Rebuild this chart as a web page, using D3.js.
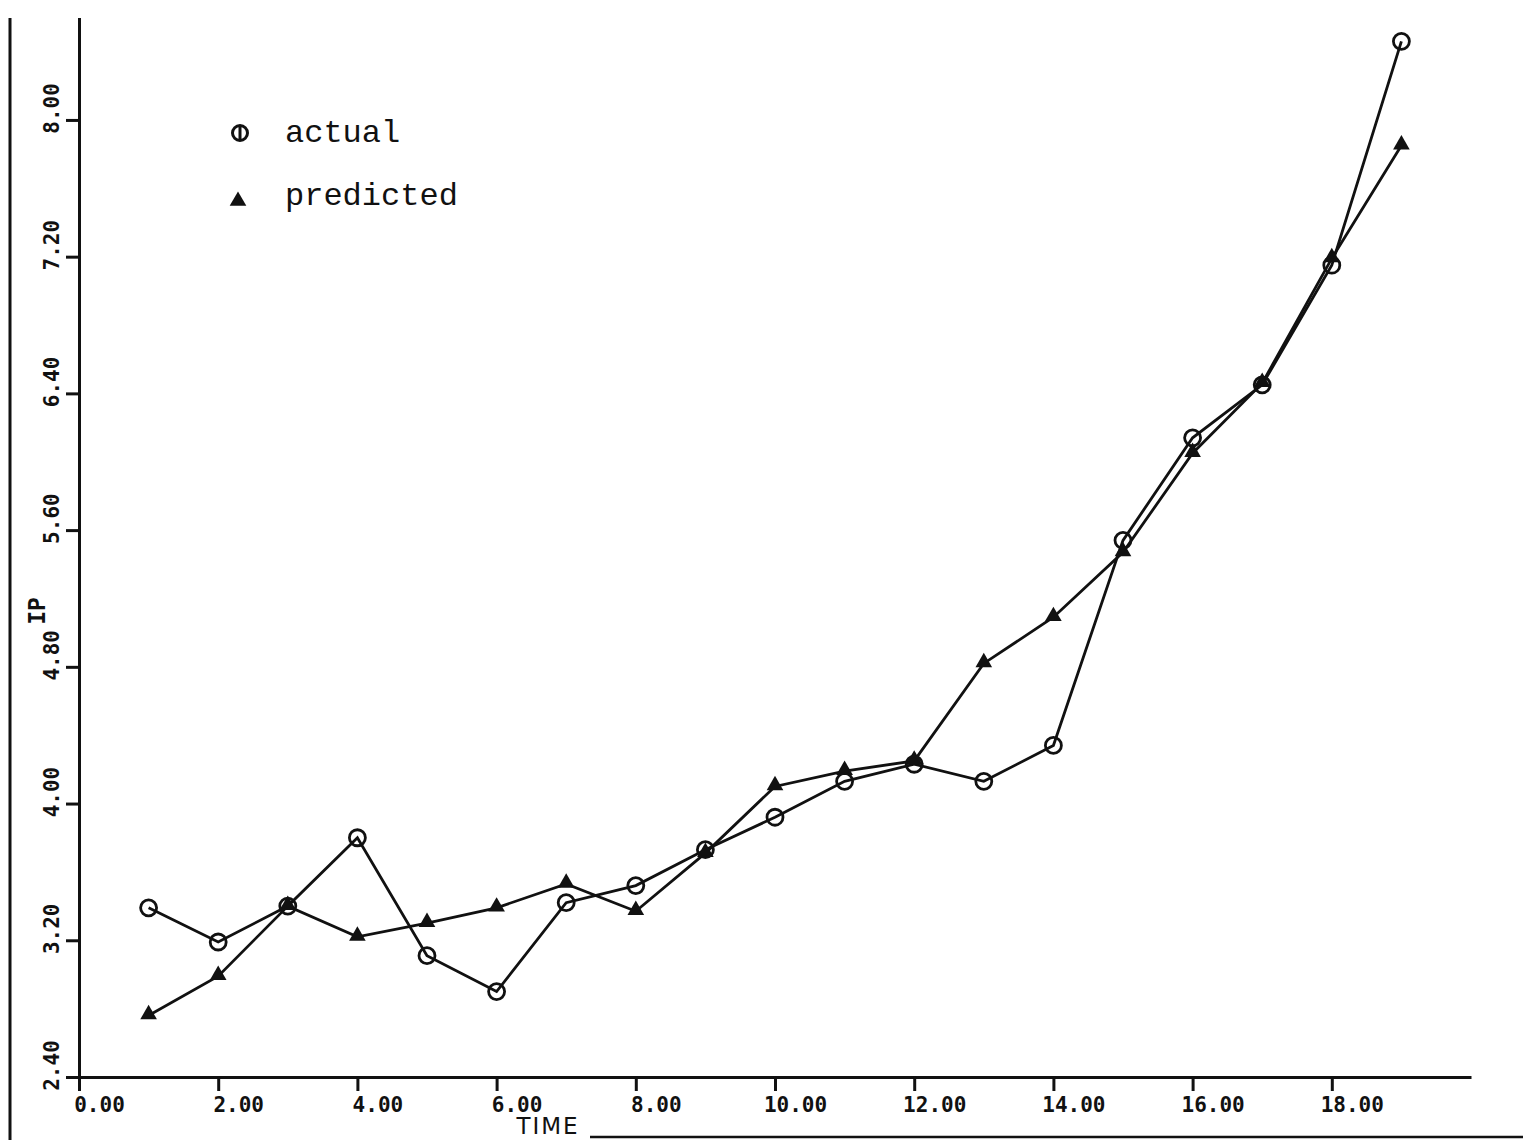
<!DOCTYPE html>
<html>
<head>
<meta charset="utf-8">
<script src="https://cdn.jsdelivr.net/npm/d3@7"></script>
<style>
  html, body { margin: 0; padding: 0; background: #fff; }
  svg { display: block; }
</style>
</head>
<body>
<svg id="chart" width="1523" height="1140"></svg>
<script>
// Time index and the two IP series
const time = [1, 2, 3, 4, 5, 6, 7, 8, 9, 10, 11, 12, 13, 14, 15, 16, 17, 18, 19];
const actual = [3.39, 3.19, 3.40, 3.80, 3.11, 2.90, 3.42, 3.52, 3.73, 3.92, 4.13, 4.23, 4.13, 4.34, 5.54, 6.14, 6.45, 7.15, 8.46];
const predicted = [2.76, 2.99, 3.40, 3.22, 3.30, 3.39, 3.53, 3.37, 3.71, 4.10, 4.19, 4.25, 4.82, 5.09, 5.47, 6.05, 6.46, 7.19, 7.85];

const xTicks = [0, 2, 4, 6, 8, 10, 12, 14, 16, 18];
const yTicks = [2.4, 3.2, 4.0, 4.8, 5.6, 6.4, 7.2, 8.0];
const seriesNames = ["actual", "predicted"];

const svg = d3.select("#chart");
const ink = "#111";

const x = d3.scaleLinear().domain([0, 20]).range([79, 1471]);
const y = d3.scaleLinear().domain([2.4, 8.6]).range([1077, 17.4]);

const tickFont = "'DejaVu Sans Mono', monospace";

// page edge lines
svg.append("line").attr("x1", 10).attr("x2", 10).attr("y1", 18).attr("y2", 1140)
  .attr("stroke", ink).attr("stroke-width", 3);
svg.append("line").attr("x1", 590).attr("x2", 1523).attr("y1", 1137).attr("y2", 1137)
  .attr("stroke", ink).attr("stroke-width", 2.5);

// x axis
const gx = svg.append("g").attr("transform", `translate(0,${y(2.4)})`)
  .call(d3.axisBottom(x).tickValues(xTicks).tickSize(14).tickSizeOuter(0).tickFormat(d3.format(".2f")));
gx.select(".domain").attr("stroke", ink).attr("stroke-width", 3);
gx.selectAll(".tick line").attr("stroke", ink).attr("stroke-width", 3);
gx.selectAll(".tick text")
  .attr("x", 0).attr("y", 0).attr("dy", null)
  .attr("transform", "translate(20,28)")
  .attr("text-anchor", "middle")
  .attr("dominant-baseline", "central")
  .attr("fill", ink)
  .style("font-family", tickFont).style("font-size", "21px").style("font-weight", "bold");

// y axis
const gy = svg.append("g").attr("transform", `translate(${x(0)},0)`)
  .call(d3.axisLeft(y).tickValues(yTicks).tickSize(13).tickSizeOuter(0).tickFormat(d3.format(".2f")));
gy.select(".domain").attr("stroke", ink).attr("stroke-width", 3);
gy.selectAll(".tick line").attr("stroke", ink).attr("stroke-width", 3);
gy.selectAll(".tick text")
  .attr("x", 0).attr("y", 0).attr("dy", null)
  .attr("transform", "translate(-27,-12) rotate(-90)")
  .attr("text-anchor", "middle")
  .attr("dominant-baseline", "central")
  .attr("fill", ink)
  .style("font-family", tickFont).style("font-size", "21px").style("font-weight", "bold");

// axis titles
svg.append("text")
  .attr("transform", "translate(37,611) rotate(-90)")
  .attr("text-anchor", "middle").attr("dominant-baseline", "central")
  .attr("fill", ink)
  .style("font-family", tickFont).style("font-size", "23px").style("font-weight", "bold")
  .text("IP");
svg.append("text")
  .attr("x", 548).attr("y", 1134)
  .attr("text-anchor", "middle")
  .attr("fill", ink)
  .style("font-family", "'DejaVu Sans', sans-serif").style("font-size", "23px")
  .style("letter-spacing", "2px")
  .text("TIME");

// series lines
const line = d3.line().x((d, i) => x(time[i])).y(d => y(d));
svg.append("path").datum(actual).attr("d", line)
  .attr("fill", "none").attr("stroke", ink).attr("stroke-width", 2.8);
svg.append("path").datum(predicted).attr("d", line)
  .attr("fill", "none").attr("stroke", ink).attr("stroke-width", 2.8);

// markers
const tri = d3.symbol().type(d3.symbolTriangle).size(120);
svg.append("g").selectAll("path").data(predicted).join("path")
  .attr("d", tri)
  .attr("transform", (d, i) => `translate(${x(time[i])},${y(d) - 1})`)
  .attr("fill", ink);

svg.append("g").selectAll("circle").data(actual).join("circle")
  .attr("cx", (d, i) => x(time[i])).attr("cy", d => y(d)).attr("r", 8)
  .attr("fill", "none").attr("stroke", ink).attr("stroke-width", 2.8);

// legend
const legend = svg.append("g");
legend.append("circle").attr("cx", 240).attr("cy", 133).attr("r", 7.5)
  .attr("fill", "none").attr("stroke", ink).attr("stroke-width", 3);
legend.append("line").attr("x1", 240).attr("x2", 240).attr("y1", 126).attr("y2", 140)
  .attr("stroke", ink).attr("stroke-width", 3);
legend.append("path").attr("d", tri).attr("transform", "translate(238,201)").attr("fill", ink);
legend.selectAll("text").data(seriesNames).join("text")
  .attr("x", 285).attr("y", (d, i) => 142 + i * 63)
  .attr("fill", ink)
  .style("font-family", "'Liberation Mono', monospace").style("font-size", "32px")
  .text(d => d);
</script>
</body>
</html>
